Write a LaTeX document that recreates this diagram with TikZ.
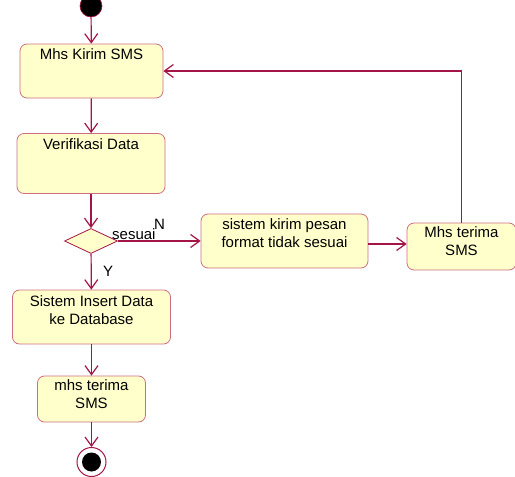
\documentclass[tikz,border=0pt]{standalone}
\usepackage{fontspec}
\setmainfont{Liberation Sans}
\usetikzlibrary{arrows.meta,shapes.geometric}
\definecolor{edgecol}{RGB}{165,20,70}
\definecolor{boxline}{RGB}{205,110,130}
\definecolor{boxfill}{RGB}{255,255,204}
\begin{document}
\begin{tikzpicture}[x=1pt,y=-1pt,
  actbox/.style={draw=boxline,line width=0.8pt,fill=boxfill,rounded corners=7pt,inner sep=0pt},
  lbl/.style={font=\fontsize{15}{17.5}\selectfont,align=center,inner sep=0pt,anchor=north},
  edgelbl/.style={font=\fontsize{15}{17.5}\selectfont,anchor=west,inner sep=0pt},
  arr/.style={draw=edgecol,line width=1.2pt,-{Straight Barb[length=9pt,width=13pt,line width=1.2pt]}}]
\useasboundingbox (0,0) rectangle (515,477);
\node[circle,fill=black,draw=edgecol,line width=0.6pt,minimum size=22pt,inner sep=0pt] (start) at (91,6) {};
\node[actbox,minimum width=143pt,minimum height=54pt] (b1) at (91.5,71) {};
\node[lbl] (t1) at ([yshift=-5pt]b1.north) {Mhs Kirim SMS};
\node[actbox,minimum width=148pt,minimum height=60pt] (b2) at (91,163.5) {};
\node[lbl] (t2) at ([yshift=-5.5pt]b2.north) {Verifikasi Data};
\node[diamond,draw=edgecol,line width=0.8pt,fill=boxfill,minimum width=53pt,minimum height=25pt,inner sep=0pt,aspect=2] (d) at (91,241) {};
\node[actbox,minimum width=167pt,minimum height=54pt] (b3) at (284.5,241) {};
\node[lbl] (t3) at ([yshift=-5pt]b3.north) {sistem kirim pesan\\format tidak sesuai};
\node[actbox,minimum width=109pt,minimum height=47pt] (b4) at (461.5,246.5) {};
\node[lbl] (t4) at ([yshift=-4pt]b4.north) {Mhs terima\\SMS};
\node[actbox,minimum width=158pt,minimum height=54pt] (b5) at (91.5,317) {};
\node[lbl] (t5) at ([yshift=-6pt]b5.north) {Sistem Insert Data\\ke Database};
\node[actbox,minimum width=108pt,minimum height=46pt] (b6) at (91.5,399) {};
\node[lbl] (t6) at ([yshift=-4pt]b6.north) {mhs terima\\SMS};
\node[circle,draw=edgecol,line width=1pt,fill=white,minimum size=29pt,inner sep=0pt] (end) at (91.5,462) {};
\node[circle,fill=black,minimum size=19pt,inner sep=0pt] (endin) at (end) {};
\draw[arr] (start) -- (b1);
\draw[arr] (b1) -- (b2);
\draw[arr] (b2) -- (d);
\draw[arr] (d) -- (b5);
\draw[arr] (b5) -- (b6);
\draw[arr] (b6) -- (end);
\draw[arr] (d.east) -- (b3.west);
\draw[arr] ([yshift=-3pt]b3.east) -- ([yshift=2.5pt]b4.west);
\draw[arr] (b4.north) |- (b1.east);
\node[edgelbl] (ls) at (112,234) {sesuai};
\node[edgelbl] (ln) at (154,224) {N};
\node[edgelbl] (ly) at (103,271) {Y};
\end{tikzpicture}
\end{document}
